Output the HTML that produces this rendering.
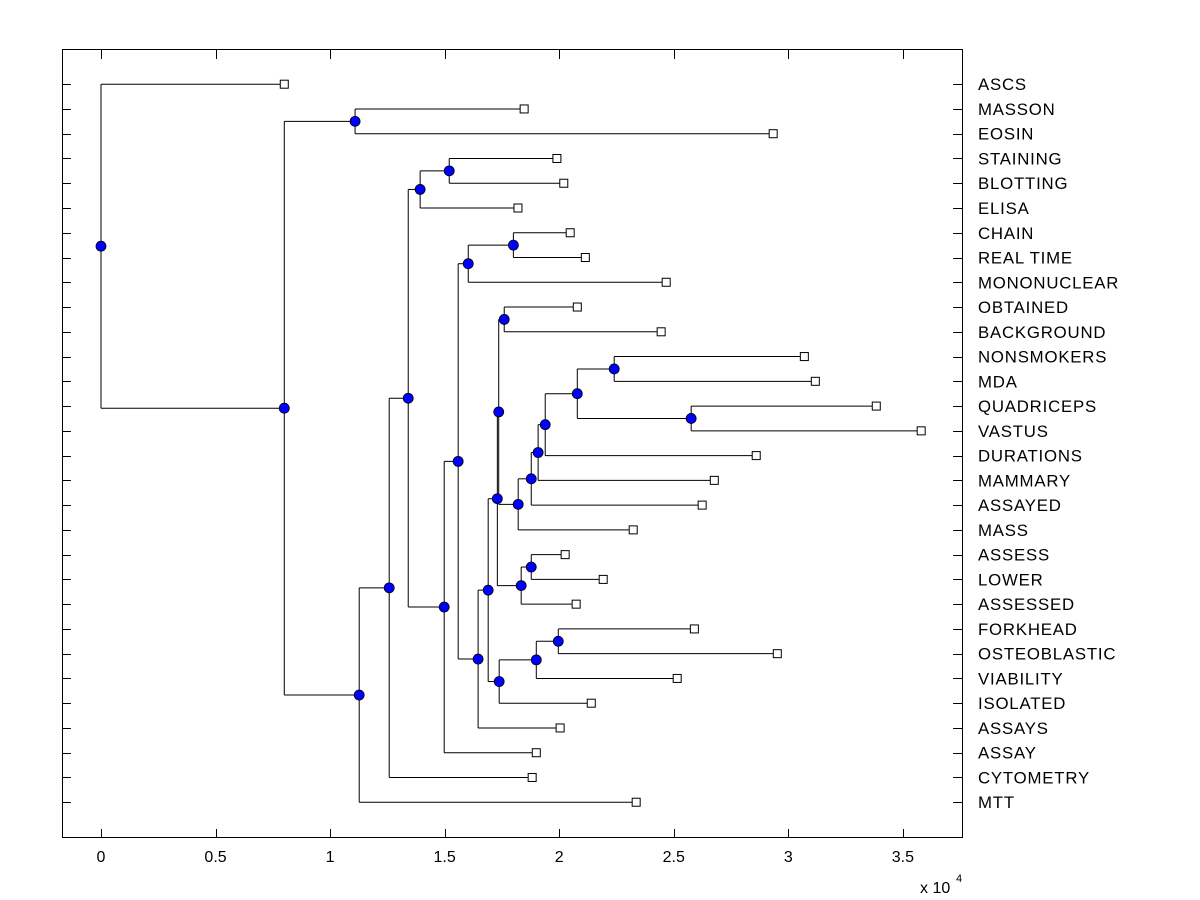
<!DOCTYPE html>
<html><head><meta charset="utf-8"><style>
body{margin:0;background:#fff;}
svg{display:block;font-family:"Liberation Sans",Arial,sans-serif;}
</style></head><body>
<svg id="chart" width="1200" height="900" viewBox="0 0 1200 900">
<rect x="0" y="0" width="1200" height="900" fill="#fff"/>
<rect x="62.5" y="49.5" width="900" height="788" fill="#fff" stroke="#000" stroke-width="1"/>
<g id="ticks"></g><g id="links"></g><g id="marks"></g><g id="labels"></g>
<text x="920" y="893" font-size="16">x 10</text>
<text x="956" y="882" font-size="11">4</text>
</svg>
<script>
// leaf labels (top to bottom) and leaf heights (x 10^4)
const leafLabels = ["ASCS","MASSON","EOSIN","STAINING","BLOTTING","ELISA","CHAIN","REAL TIME","MONONUCLEAR","OBTAINED","BACKGROUND","NONSMOKERS","MDA","QUADRICEPS","VASTUS","DURATIONS","MAMMARY","ASSAYED","MASS","ASSESS","LOWER","ASSESSED","FORKHEAD","OSTEOBLASTIC","VIABILITY","ISOLATED","ASSAYS","ASSAY","CYTOMETRY","MTT"];
const leafHeights = [0.80,1.847,2.934,1.99,2.02,1.82,2.048,2.114,2.467,2.079,2.445,3.07,3.118,3.384,3.58,2.86,2.677,2.624,2.323,2.026,2.192,2.074,2.59,2.952,2.515,2.14,2.004,1.9,1.882,2.336];
// internal nodes: name, child1, child2 (leaf index number or node name), height
const nodeNames = ["W","X","V","U","T","S","R","P","Q","Z","Y","N","O3","O2","O","L","J","K","I","H","F","G","E","D","C","B","M","A","root"];
const nodeChildA = [11,13,"W","V","U","T","S",9,"P",19,"Z","Q",22,"O3","O2","N","L",6,"K","I","H",3,"G","E","D","C",1,"M",0];
const nodeChildB = [12,14,"X",15,16,17,18,10,"R",20,21,"Y",23,24,25,"O",26,7,8,"J",27,4,5,"F",28,29,2,"B","A"];
const nodeHeights = [2.240,2.576,2.079,1.939,1.908,1.878,1.821,1.760,1.736,1.878,1.834,1.730,1.996,1.900,1.738,1.690,1.646,1.800,1.603,1.559,1.498,1.520,1.393,1.341,1.258,1.127,1.109,0.800,0.0];
const xTicks = [0,0.5,1,1.5,2,2.5,3,3.5];
const xTickLabels = ["0","0.5","1","1.5","2","2.5","3","3.5"];

const NS="http://www.w3.org/2000/svg";
const X0=101, XS=229.1, Y0=84.2, YS=24.76;
function xs(v){return X0+v*XS;}
function ys(i){return Y0+i*YS;}
function mk(tag,attrs,parent){const e=document.createElementNS(NS,tag);for(const k in attrs)e.setAttribute(k,attrs[k]);document.getElementById(parent).appendChild(e);return e;}

xTicks.forEach((t,i)=>{
  const x=Math.round(xs(t))+0.5;
  const a=mk("line",{x1:x,x2:x,y1:838,y2:829,stroke:"#000"},"ticks");
  
  
  const b=mk("line",{x1:x,x2:x,y1:50,y2:59,stroke:"#000"},"ticks");
  
  
  const l=mk("text",{x:xs(t),y:862,"font-size":16,"text-anchor":"middle"},"labels");
  l.textContent=xTickLabels[i];
  
  
});
leafLabels.forEach((lab,i)=>{
  const y=Math.round(ys(i))+0.5;
  const a=mk("line",{x1:62,x2:71,y1:y,y2:y,stroke:"#000"},"ticks");
  
  
  const b=mk("line",{x1:953,x2:962,y1:y,y2:y,stroke:"#000"},"ticks");
  
  
  const t=mk("text",{x:978,y:ys(i)+6,"font-size":16.8,"letter-spacing":0.8},"labels");
  t.textContent=lab;
  
  
});

const pos={};
leafLabels.forEach((l,i)=>{pos[i]={x:leafHeights[i],y:ys(i),leaf:true};});
function getPos(c){return pos[c];}
nodeNames.forEach((n,k)=>{
  const a=getPos(nodeChildA[k]), b=getPos(nodeChildB[k]);
  pos[n]={x:nodeHeights[k],y:(a.y+b.y)/2,leaf:false};
});
nodeNames.forEach((n,k)=>{
  const p=pos[n], px=xs(p.x);
  const a=getPos(nodeChildA[k]), b=getPos(nodeChildB[k]);
  const v=mk("line",{x1:px,x2:px,y1:a.y,y2:b.y,stroke:"#000","stroke-width":1},"links");
  
  
  [a,b].forEach(c=>{
    const h=mk("line",{x1:px,x2:xs(c.x),y1:c.y,y2:c.y,stroke:"#000","stroke-width":1},"links");
    
    
  });
});
leafLabels.forEach((l,i)=>{
  const p=pos[i];
  const r=mk("rect",{x:xs(p.x)-4,y:p.y-4,width:8,height:8,fill:"#fff",stroke:"#000","stroke-width":1},"marks");
  
  
});
nodeNames.forEach(n=>{
  const p=pos[n];
  const c=mk("circle",{cx:xs(p.x),cy:p.y,r:5,fill:"#0000ff",stroke:"#000","stroke-width":0.8},"marks");
  
  
});
</script>
</body></html>
